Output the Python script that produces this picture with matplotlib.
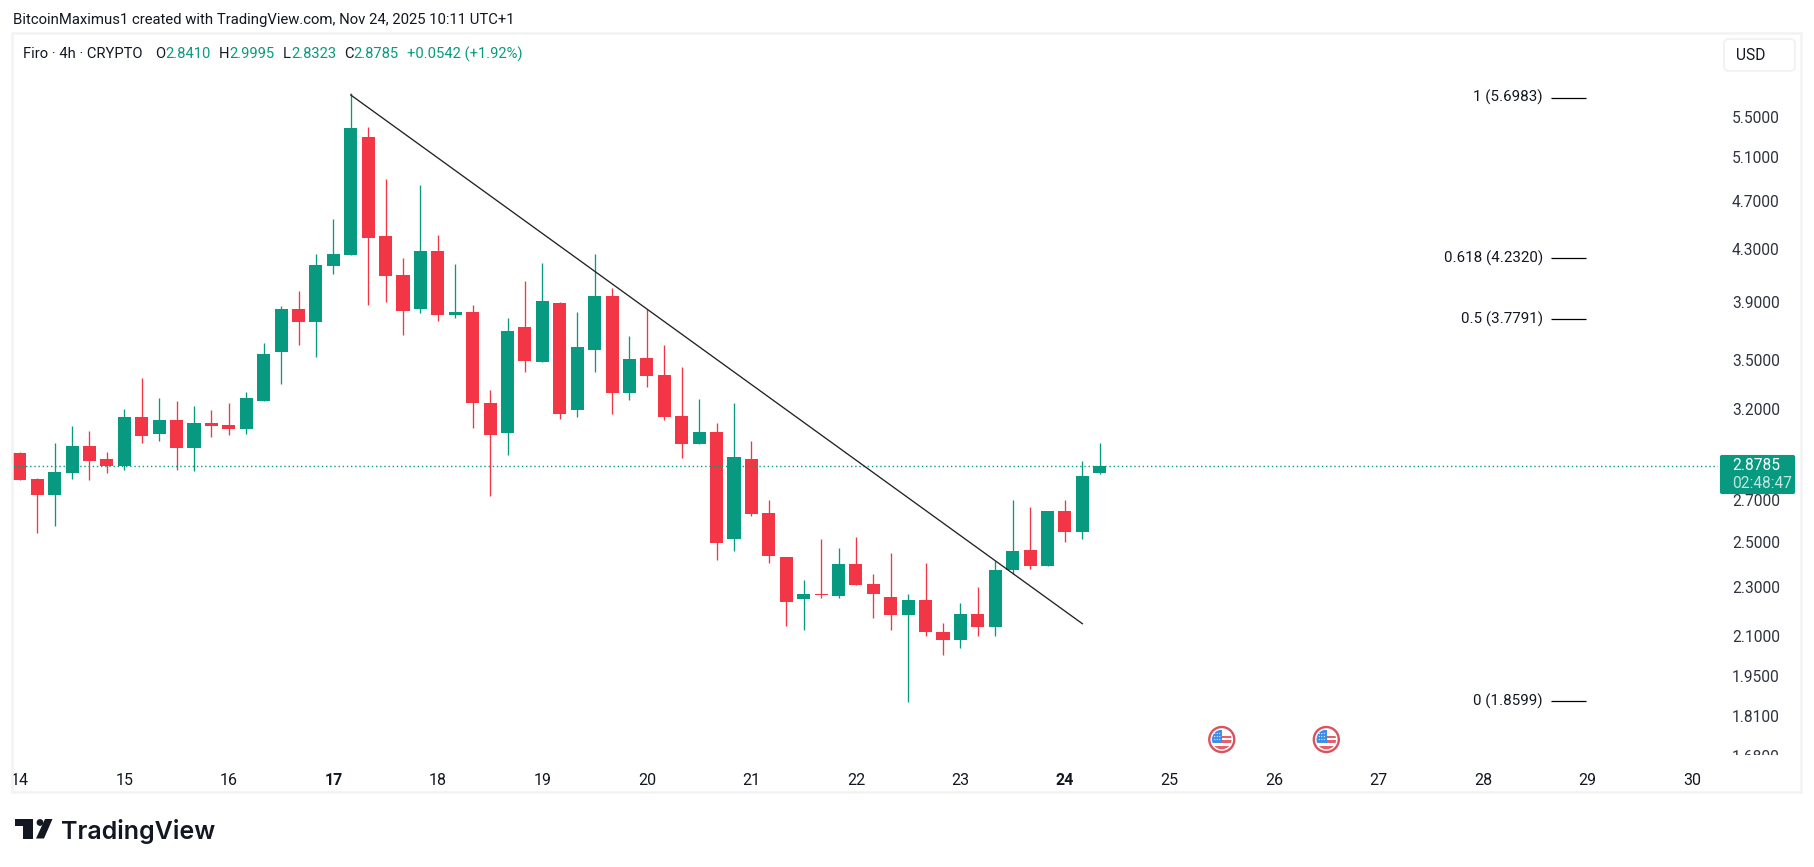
import matplotlib
matplotlib.use("Agg")
import matplotlib.pyplot as plt
from matplotlib.patches import Circle, FancyBboxPatch, Polygon, Rectangle
from matplotlib.ticker import FixedLocator, NullLocator
from matplotlib.transforms import Bbox

# 4h candles, oldest first
opens = [2.947, 2.808, 2.726, 2.840, 2.986, 2.914, 2.877, 3.151, 3.053, 3.133, 2.975,
         3.116, 3.104, 3.081, 3.246, 3.554, 3.850, 3.758, 4.169, 4.255, 5.297, 4.408,
         4.100, 3.850, 4.287, 3.807, 3.828, 3.234, 3.058, 3.723, 3.489, 3.893,
         3.192, 3.568, 3.944, 3.294, 3.515, 3.406, 3.156, 2.997, 3.064, 2.512, 2.914,
         2.637, 2.430, 2.248, 2.269, 2.260, 2.399, 2.311, 2.256, 2.182, 2.244, 2.114,
         2.083, 2.186, 2.134, 2.372, 2.462, 2.390, 2.646, 2.545, 2.8410]
highs = [2.953, 2.814, 3.002, 3.098, 3.070, 2.953, 3.198, 3.387, 3.264, 3.246, 3.216,
         3.192, 3.234, 3.300, 3.614, 3.871, 3.980, 4.263, 4.549, 5.744, 5.396, 4.900,
         4.232, 4.845, 4.416, 4.185, 3.878, 3.312, 3.786, 4.055, 4.193, 3.900,
         3.828, 4.263, 4.003, 3.662, 3.850, 3.601, 3.457, 3.258, 3.116, 3.234, 3.013,
         2.701, 2.430, 2.328, 2.512, 2.471, 2.522, 2.354, 2.448, 2.269, 2.403, 2.150,
         2.231, 2.298, 2.412, 2.701, 2.666, 2.646, 2.701, 2.904, 2.9995]
lows = [2.803, 2.541, 2.574, 2.808, 2.803, 2.840, 2.856, 3.002, 3.013, 2.856, 2.850,
        3.036, 3.047, 3.053, 3.246, 3.350, 3.601, 3.522, 4.108, 4.255, 3.878, 3.900,
        3.668, 3.821, 3.765, 3.786, 3.087, 2.721, 2.936, 3.425, 3.489, 3.139,
        3.151, 3.425, 3.168, 3.252, 3.331, 3.133, 2.920, 2.997, 2.416, 2.457, 2.622,
        2.403, 2.138, 2.122, 2.252, 2.252, 2.307, 2.170, 2.122, 1.857, 2.099, 2.026,
        2.052, 2.099, 2.099, 2.354, 2.376, 2.390, 2.499, 2.512, 2.8323]
closes = [2.803, 2.726, 2.845, 2.986, 2.904, 2.877, 3.151, 3.042, 3.133, 2.975, 3.116,
          3.098, 3.081, 3.264, 3.541, 3.850, 3.758, 4.177, 4.263, 5.386, 4.392, 4.093,
          3.835, 4.287, 3.807, 3.828, 3.234, 3.047, 3.696, 3.496, 3.907, 3.168,
          3.588, 3.944, 3.294, 3.509, 3.400, 3.151, 2.997, 3.064, 2.494, 2.925, 2.632,
          2.434, 2.235, 2.269, 2.265, 2.399, 2.307, 2.269, 2.182, 2.244, 2.114, 2.083,
          2.186, 2.134, 2.372, 2.457, 2.390, 2.646, 2.545, 2.824, 2.8785]

trend_x = [19, 61]
trend_y = [5.726, 2.147]

fib_levels = ["1", "0.618", "0.5", "0"]
fib_prices = [5.6983, 4.2320, 3.7791, 1.8599]

price_ticks = [5.5, 5.1, 4.7, 4.3, 3.9, 3.5, 3.2, 2.7, 2.5, 2.3, 2.1, 1.95, 1.81, 1.68]
day_ticks = [0, 6, 12, 18, 24, 30, 36, 42, 48, 54, 60, 66, 72, 78, 84, 90, 96]
day_labels = ["14", "15", "16", "17", "18", "19", "20", "21", "22", "23", "24",
              "25", "26", "27", "28", "29", "30"]
bold_days = ["17", "24"]
event_days = [69, 75]

GREEN = "#089981"
RED = "#F23645"
INK = "#131722"
FONT = "Roboto"
W, H = 1814, 867

plt.rcParams["font.family"] = [FONT, "DejaVu Sans"]
fig = plt.figure(figsize=(W / 100, H / 100), dpi=100, facecolor="white")

ax = fig.add_axes([13 / W, (H - 757) / H, 1705 / W, 724 / H], zorder=2)
ax.patch.set_visible(False)
ax.set_yscale("log")
ax.set_xlim(-0.39, 97.49)
ax.set_ylim(1.6766, 6.424)
for side in ax.spines.values():
    side.set_visible(False)

# candles
for i, (o, h, l, c) in enumerate(zip(opens, highs, lows, closes)):
    col = GREEN if c >= o else RED
    ax.vlines(i, l, h, color=col, lw=0.95, zorder=3)
    ax.bar(i, abs(c - o), bottom=min(o, c), width=0.75, color=col, linewidth=0, zorder=4)

ax.axhline(closes[-1], color=GREEN, lw=1, ls=(0, (1, 2)), zorder=5)
ax.plot(trend_x, trend_y, color="#222222", lw=0.95, zorder=6)

# fib levels out to the right of the candles
ax.hlines(fib_prices, 87.9, 89.9, color="black", lw=0.9, zorder=3)
for name, val in zip(fib_levels, fib_prices):
    ax.text(87.45, val, "%s (%.4f)" % (name, val), ha="right", va="center",
            fontsize=10.9, color=INK)

ax.yaxis.tick_right()
ax.yaxis.set_major_locator(FixedLocator(price_ticks))
ax.yaxis.set_minor_locator(NullLocator())
ax.set_yticklabels(["%.4f" % p for p in price_ticks], fontsize=11.2, color="#2f3340")
ax.tick_params(axis="y", which="both", length=0, pad=10)

ax.set_xticks(day_ticks)
ax.set_xticklabels(day_labels, fontsize=11.5, color=INK)
ax.tick_params(axis="x", length=0, pad=11.5)
for lab in ax.get_xticklabels():
    if lab.get_text() in bold_days:
        lab.set_fontweight("bold")

# the lowest price and the first date run into the panel edges
clip = Bbox.from_extents(13, H - 755, W, H)
clip_x = Bbox.from_extents(13, 0, W, H)
for lab in ax.get_yticklabels(which="major"):
    lab.set_clip_box(clip)
    lab.set_clip_on(True)
for lab in ax.get_xticklabels():
    lab.set_clip_box(clip_x)
    lab.set_clip_on(True)

# page furniture, laid out in pixels
ov = fig.add_axes([0, 0, 1, 1], zorder=3)
ov.set_xlim(0, W)
ov.set_ylim(H, 0)
ov.axis("off")

ov.add_patch(Rectangle((12, 33), 1789, 758.5, fill=False, ec="#F2F2F3", lw=1.8))
ov.text(13, 20, "BitcoinMaximus1 created with TradingView.com, Nov 24, 2025 10:11 UTC+1",
        fontsize=10.7, color=INK, va="center")

legend_bits = [(23, "Firo · 4h · CRYPTO", INK), (155, "O", INK), (165, "2.8410", GREEN),
               (219, "H", INK), (229, "2.9995", GREEN), (283, "L", INK), (291, "2.8323", GREEN),
               (344, "C", INK), (353, "2.8785", GREEN), (407, "+0.0542 (+1.92%)", GREEN)]
for x, s, col in legend_bits:
    ov.text(x, 54, s, fontsize=10.6, color=col, va="center")

ov.add_patch(FancyBboxPatch((1724, 39), 71, 32, boxstyle="round,pad=0,rounding_size=5",
                            fc="white", ec="#F0F0F2", lw=1.2))
ov.text(1736, 55, "USD", fontsize=11.2, color=INK, va="center")

# last price tag
ov.add_patch(FancyBboxPatch((1720.5, 455.5), 74, 38, boxstyle="round,pad=0,rounding_size=1.5",
                            fc=GREEN, ec=GREEN, lw=0.8))
ov.text(1732, 466, "%.4f" % closes[-1], fontsize=11.2, color="white", va="center")
ov.text(1732, 483, "02:48:47", fontsize=11.2, color="#BFE6DF", va="center")


def us_flag(cx, cy):
    ov.add_patch(Circle((cx, cy), 12.5, fc="white", ec="#D9525E", lw=1.7))
    disc = Circle((cx, cy), 9.8, transform=ov.transData, fc="none", ec="none")
    ov.add_patch(disc)
    bits = [Rectangle((cx - 10, cy - 10), 10.5, 13, fc="#3F8FE8", ec="none"),
            Rectangle((cx + 0.5, cy - 4), 10, 2, fc="#E5606A", ec="none"),
            Rectangle((cx + 0.5, cy + 0.5), 10, 2.5, fc="#E5606A", ec="none"),
            Rectangle((cx - 10, cy + 6), 20, 4, fc="#E5606A", ec="none")]
    for b in bits:
        ov.add_patch(b)
        b.set_clip_path(disc)
    # stars on the blue canton
    for dx in (-7, -4.5, -2):
        for dy in (-6, -3, 0):
            ov.add_patch(Circle((cx + dx, cy + dy), 0.55, fc="white", ec="none"))


for i in event_days:
    us_flag(19.8 + 17.42 * i, 739.5)

# logo: T, dot and slash, then the wordmark
ov.add_patch(Polygon([(15, 819), (32.5, 819), (32.5, 838.5), (22.5, 838.5), (22.5, 826), (15, 826)],
                     fc=INK, ec="none"))
ov.add_patch(Circle((40, 822.5), 3.4, fc=INK, ec="none"))
ov.add_patch(Polygon([(45, 819), (52.5, 819), (44, 838.5), (36, 838.5)], fc=INK, ec="none"))
ov.text(61, 831, "TradingView", fontsize=18, fontweight="semibold", family="Inter",
        color=INK, va="center")

fig.savefig("out.png", dpi=100)
